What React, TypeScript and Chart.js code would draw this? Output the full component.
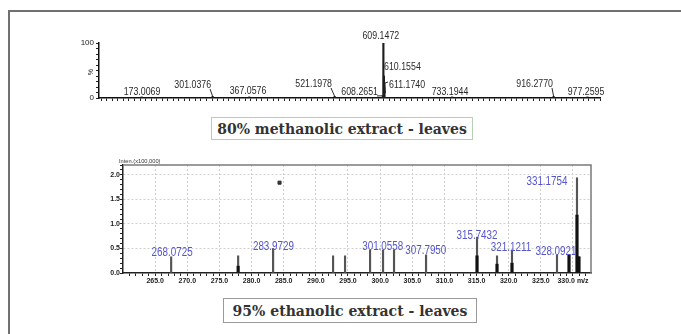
import React, { useEffect, useRef } from 'react';
import { Chart, registerables } from 'chart.js';
Chart.register(...registerables);

// ---------- Top spectrum: 80% methanolic extract (relative %, m/z) ----------
const topMz = [173.0069, 301.0376, 367.0576, 521.1978, 608.2651, 609.1472, 610.1554, 611.174, 733.1944, 916.277, 977.2595];
const topIntensity = [2, 3, 2, 3, 4, 100, 40, 9, 2, 3, 2];
const topLabels = ['173.0069', '301.0376', '367.0576', '521.1978', '608.2651', '609.1472', '610.1554', '611.1740', '733.1944', '916.2770', '977.2595'];
const topLabelMz = [173.6, 298.2, 364.9, 516.4, 599.4, 604.5, 610.4, 619.3, 729.3, 915.2, 974.7];
const topLabelLevel = [11, 23.6, 12.7, 25.5, 11, 113, 56, 23.6, 11, 25.5, 11];
const topLabelSide = ['center', 'right', 'center', 'right', 'right', 'center', 'left', 'left', 'center', 'right', 'center'];
const topYTickLabels = [0, 100];

// ---------- Bottom spectrum: 95% ethanolic extract (Inten. x100,000) ----------
const botMz = [267.49, 277.91, 283.35, 292.68, 294.54, 298.43, 300.45, 302.16, 307.14, 315.07, 318.18, 320.51, 327.51, 329.38, 330.62, 330.93];
const botIntensity = [0.33, 0.35, 0.5, 0.35, 0.35, 0.47, 0.47, 0.47, 0.37, 0.73, 0.35, 0.47, 0.37, 0.37, 1.94, 0.33];
const botCoreMz = [277.91, 315.07, 318.18, 320.51, 329.38, 330.62, 330.93];
const botCoreIntensity = [0.14, 0.35, 0.18, 0.2, 0.37, 1.18, 0.33];
const botLabels = ['268.0725', '283.9729', '301.0558', '307.7950', '315.7432', '321.1211', '328.0921', '331.1754'];
const botLabelMz = [267.64, 283.4, 300.4, 307.1, 315.07, 320.36, 327.35, 325.95];
const botLabelLevel = [0.41, 0.53, 0.53, 0.45, 0.755, 0.51, 0.43, 1.86];
const markerMz = [284.35];
const markerLevel = [1.84];
const botXTickLabels = [265, 270, 275, 280, 285, 290, 295, 300, 305, 310, 315, 320, 325, 330];
const botYTickLabels = [0, 0.5, 1.0, 1.5, 2.0];

const SANS = '"Liberation Sans", Arial, sans-serif';

function narrowText(ctx: any, text: string, x: number, y: number, align: string, sx: number) {
  ctx.save();
  ctx.translate(x, y);
  ctx.scale(sx, 1);
  ctx.textAlign = align;
  ctx.fillText(text, 0, 0);
  ctx.restore();
}

const topLabelPlugin = {
  id: 'topLabels',
  afterDatasetsDraw(chart: any) {
    const { ctx, scales } = chart;
    const x = scales.x, y = scales.y;
    ctx.save();
    ctx.font = `11px ${SANS}`;
    ctx.fillStyle = '#2a2a2a';
    ctx.strokeStyle = '#2a2a2a';
    ctx.lineWidth = 1;
    ctx.textBaseline = 'middle';
    topLabels.forEach((t, i) => {
      const px = x.getPixelForValue(topLabelMz[i]);
      const py = y.getPixelForValue(topLabelLevel[i]);
      const side = topLabelSide[i];
      narrowText(ctx, t, px, py, side, 0.8);
      const peakX = x.getPixelForValue(topMz[i]);
      const peakY = y.getPixelForValue(topIntensity[i]);
      if (side === 'right') {
        ctx.beginPath();
        ctx.moveTo(px - 1, py + 4);
        ctx.lineTo(peakX, peakY);
        ctx.stroke();
      } else if (side === 'left' && i === 7) {
        ctx.beginPath();
        ctx.moveTo(px - 1, py - 3);
        ctx.lineTo(px - 4, py - 2);
        ctx.lineTo(peakX + 1, peakY);
        ctx.stroke();
      }
    });
    // rotated "%" axis title
    ctx.save();
    ctx.translate(chart.chartArea.left - 8, y.getPixelForValue(47));
    ctx.rotate(-Math.PI / 2);
    ctx.textAlign = 'center';
    ctx.font = `7px ${SANS}`;
    ctx.fillText('%', 0, 0);
    ctx.restore();
    ctx.restore();
  },
};

const botLabelPlugin = {
  id: 'botLabels',
  beforeDatasetsDraw(chart: any) {
    const { ctx, chartArea } = chart;
    ctx.save();
    ctx.strokeStyle = '#7a7a7a';
    ctx.lineWidth = 1.5;
    ctx.beginPath();
    ctx.moveTo(chartArea.left, chartArea.top);
    ctx.lineTo(chartArea.right, chartArea.top);
    ctx.lineTo(chartArea.right, chartArea.bottom);
    ctx.stroke();
    ctx.restore();
  },
  afterDatasetsDraw(chart: any) {
    const { ctx, scales, chartArea } = chart;
    const x = scales.x, y = scales.y;
    ctx.save();
    ctx.font = `12px ${SANS}`;
    ctx.fillStyle = '#5555cc';
    ctx.textBaseline = 'middle';
    botLabels.forEach((t, i) => {
      narrowText(ctx, t, x.getPixelForValue(botLabelMz[i]), y.getPixelForValue(botLabelLevel[i]), 'center', 0.82);
    });
    ctx.font = `6px ${SANS}`;
    ctx.fillStyle = '#333';
    ctx.textBaseline = 'bottom';
    narrowText(ctx, 'Inten.(x100,000)', chartArea.left - 4, chartArea.top - 1, 'left', 0.95);
    ctx.restore();
  },
};

export default function App() {
  const topRef = useRef<HTMLCanvasElement>(null);
  const botRef = useRef<HTMLCanvasElement>(null);

  useEffect(() => {
    const top = new Chart(topRef.current as HTMLCanvasElement, {
      type: 'bar',
      data: {
        datasets: [
          {
            data: topMz.map((m, i) => ({ x: m, y: topIntensity[i] })),
            backgroundColor: '#1e1e1e',
            barThickness: 1.5,
            grouped: false,
          } as any,
        ],
      },
      options: {
        animation: false,
        responsive: false,
        events: [],
        layout: { padding: { top: 23, right: 25, left: 0, bottom: 0 } },
        plugins: { legend: { display: false }, tooltip: { enabled: false } },
        scales: {
          x: {
            type: 'linear',
            min: 96,
            max: 1000,
            offset: false,
            afterBuildTicks: (s: any) => {
              const t = [];
              for (let v = 100; v <= 1000; v += 10) t.push({ value: v });
              s.ticks = t;
            },
            ticks: { display: false },
            grid: { display: true, drawOnChartArea: false, drawTicks: true, tickLength: 3, tickColor: '#222', offset: false },
            border: { display: true, color: '#111', width: 1.5 },
            afterFit: (s: any) => { s.height = 12; },
          },
          y: {
            min: 0,
            max: 100,
            afterBuildTicks: (s: any) => {
              const t = [];
              for (let v = 0; v <= 100; v += 10) t.push({ value: v });
              s.ticks = t;
            },
            ticks: {
              autoSkip: false,
              padding: 2,
              color: '#222',
              font: { size: 8, family: SANS },
              callback: (v: any) => (topYTickLabels.includes(v) ? String(v) : ''),
            },
            grid: { drawOnChartArea: false, drawTicks: true, tickLength: 3, tickColor: '#222' },
            border: { display: true, color: '#111', width: 1.5 },
            afterFit: (s: any) => { s.width = 39; },
          },
        },
      } as any,
      plugins: [topLabelPlugin],
    });

    const bot = new Chart(botRef.current as HTMLCanvasElement, {
      type: 'bar',
      data: {
        datasets: [
          {
            data: botMz.map((m, i) => ({ x: m, y: botIntensity[i] })),
            backgroundColor: '#555',
            barThickness: 1.5,
            grouped: false,
            order: 2,
          } as any,
          {
            data: botCoreMz.map((m, i) => ({ x: m, y: botCoreIntensity[i] })),
            backgroundColor: '#111',
            barThickness: 2.5,
            grouped: false,
            order: 1,
          } as any,
          {
            type: 'line',
            data: markerMz.map((m, i) => ({ x: m, y: markerLevel[i] })),
            showLine: false,
            pointStyle: 'rect',
            pointRadius: 2.2,
            backgroundColor: '#333',
            borderColor: '#333',
            order: 0,
          } as any,
        ],
      },
      options: {
        animation: false,
        responsive: false,
        events: [],
        layout: { padding: { top: 15, right: 29, left: 0, bottom: 0 } },
        plugins: { legend: { display: false }, tooltip: { enabled: false } },
        scales: {
          x: {
            type: 'linear',
            min: 260,
            max: 332.8,
            offset: false,
            afterBuildTicks: (s: any) => {
              const t = [];
              for (let v = 261; v <= 332; v += 1) t.push({ value: v });
              s.ticks = t;
            },
            ticks: {
              autoSkip: false,
              maxRotation: 0,
              padding: 1,
              color: '#222',
              font: { size: 7, weight: 'bold', family: SANS },
              callback: (v: any) => (botXTickLabels.includes(v) ? (v === 330 ? '330.0 m/z' : v.toFixed(1)) : ''),
            },
            grid: {
              display: true,
              drawOnChartArea: true,
              drawTicks: true,
              tickLength: 3,
              tickColor: '#222',
              offset: false,
              color: (c: any) => (c.tick && botXTickLabels.includes(c.tick.value) ? '#cfcfcf' : 'rgba(0,0,0,0)'),
            },
            border: { display: true, color: '#222', width: 1.5, dash: [2, 2] },
            afterFit: (s: any) => { s.height = 23; },
          },
          y: {
            min: 0,
            max: 2.2,
            afterBuildTicks: (s: any) => {
              const t = [];
              for (let i = 0; i <= 22; i++) t.push({ value: i / 10 });
              s.ticks = t;
            },
            ticks: {
              autoSkip: false,
              padding: 0,
              color: '#222',
              font: { size: 7, weight: 'bold', family: SANS },
              callback: (v: any) => {
                const k = botYTickLabels.findIndex((b) => Math.abs(b - v) < 1e-6);
                return k >= 0 ? botYTickLabels[k].toFixed(1) : '';
              },
            },
            grid: {
              drawOnChartArea: true,
              drawTicks: true,
              tickLength: 3,
              tickColor: '#222',
              color: (c: any) =>
                c.tick && c.tick.value > 0 && botYTickLabels.some((b) => Math.abs(b - c.tick.value) < 1e-6)
                  ? '#cfcfcf'
                  : 'rgba(0,0,0,0)',
            },
            border: { display: true, color: '#222', width: 1.5, dash: [2, 2] },
            afterFit: (s: any) => { s.width = 43; },
          },
        },
      } as any,
      plugins: [botLabelPlugin],
    });

    return () => {
      top.destroy();
      bot.destroy();
    };
  }, []);

  const captionFont = '"DejaVu Serif", "Liberation Serif", serif';

  return (
    <div
      style={{
        position: 'fixed',
        left: 0,
        top: 0,
        width: 681,
        height: 334,
        overflow: 'hidden',
        background: '#fff',
      }}
    >
      <div
        style={{
          position: 'absolute',
          left: 8,
          top: 10,
          width: 720,
          height: 400,
          border: '2px solid #707070',
          boxSizing: 'border-box',
        }}
      />
      <canvas ref={topRef} width={565} height={90} style={{ position: 'absolute', left: 60, top: 20, width: 565, height: 90 }} />
      <div
        style={{
          position: 'absolute',
          left: 211,
          top: 117,
          width: 262,
          height: 23,
          boxSizing: 'border-box',
          border: '1.5px solid #b4cfb4',
          display: 'flex',
          alignItems: 'center',
          justifyContent: 'center',
          fontFamily: captionFont,
          fontWeight: 'bold',
          fontSize: 14,
          color: '#333',
          whiteSpace: 'nowrap',
        }}
      >
        80% methanolic extract - leaves
      </div>
      <canvas ref={botRef} width={540} height={146} style={{ position: 'absolute', left: 80, top: 150, width: 540, height: 146 }} />
      <div
        style={{
          position: 'absolute',
          left: 223,
          top: 298,
          width: 254,
          height: 25,
          boxSizing: 'border-box',
          border: '1.5px solid #9a9a9a',
          display: 'flex',
          alignItems: 'center',
          justifyContent: 'center',
          fontFamily: captionFont,
          fontWeight: 'bold',
          fontSize: 14,
          color: '#333',
          whiteSpace: 'nowrap',
        }}
      >
        95% ethanolic extract - leaves
      </div>
    </div>
  );
}
